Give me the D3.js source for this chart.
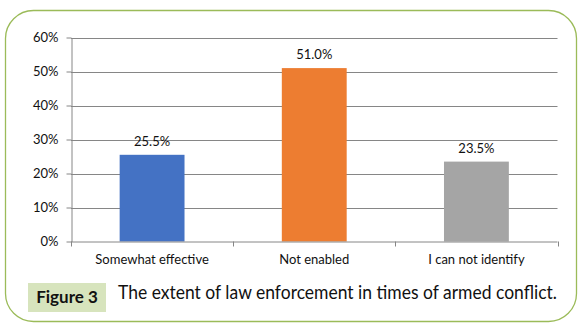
<!DOCTYPE html>
<html><head><meta charset="utf-8">
<script src="https://cdn.jsdelivr.net/npm/d3@7/dist/d3.min.js"></script>
<style>body{margin:0;background:#fff}svg{display:block}text{font-family:Lato,"Liberation Sans",sans-serif;fill:#111}</style>
</head><body>
<script>
const categories = ["Somewhat effective", "Not enabled", "I can not identify"];
const values = [25.5, 51.0, 23.5];
const colors = ["#4472c4", "#ed7d31", "#a5a5a5"];
const yTicks = [0, 10, 20, 30, 40, 50, 60];
const figureLabel = "Figure 3";
const caption = "The extent of law enforcement in times of armed conflict.";

const W = 586, H = 332;
const svg = d3.select("body").append("svg").attr("width", W).attr("height", H);

svg.append("rect").attr("x", 5.5).attr("y", 10.5).attr("width", 571).attr("height", 311)
  .attr("rx", 28).attr("ry", 28).attr("fill", "#fff").attr("stroke", "#9bbb59").attr("stroke-width", 1.3);

const x0 = 71, x1 = 557.5, yBot = 241.5, yTop = 37.5;
const x = d3.scaleBand().domain(categories).range([x0, x1]);
const y = d3.scaleLinear().domain([0, 60]).range([yBot, yTop]);

// gridlines
svg.append("g").selectAll("line").data(yTicks.filter(d => d > 0)).join("line")
  .attr("x1", x0).attr("x2", x1).attr("y1", d => Math.round(y(d)) + 0.5).attr("y2", d => Math.round(y(d)) + 0.5)
  .attr("stroke", "#868686").attr("stroke-width", 1);

// y axis
const yAxis = svg.append("g").attr("transform", `translate(${x0 + 0.5},0)`)
  .call(d3.axisLeft(y).tickValues(yTicks).tickFormat(d => d + "%").tickSize(5).tickSizeOuter(0));
yAxis.select(".domain").attr("stroke", "#868686");
yAxis.selectAll(".tick line").attr("stroke", "#868686");
yAxis.selectAll(".tick text").attr("x", -13).attr("font-size", 13).attr("fill", "#111").style("font-family", "Lato,'Liberation Sans',sans-serif");

// bars
const bw = x.step() * 0.4;
svg.append("g").selectAll("rect").data(values).join("rect")
  .attr("x", (d, i) => x(categories[i]) + (x.bandwidth() - bw) / 2)
  .attr("width", bw)
  .attr("y", d => y(d)).attr("height", d => yBot - y(d))
  .attr("fill", (d, i) => colors[i]);

// x axis
svg.append("line").attr("x1", x0).attr("x2", x1).attr("y1", yBot + 0.5).attr("y2", yBot + 0.5).attr("stroke", "#868686");
const bounds = [x0, ...categories.map(c => x(c) + x.bandwidth())];
svg.append("g").selectAll("line").data(bounds).join("line")
  .attr("x1", d => Math.round(d) + 0.5).attr("x2", d => Math.round(d) + 0.5)
  .attr("y1", yBot).attr("y2", yBot + 5).attr("stroke", "#868686");
svg.append("g").selectAll("text").data(categories).join("text")
  .attr("x", d => x(d) + x.bandwidth() / 2).attr("y", 264)
  .attr("text-anchor", "middle").attr("font-size", 13).text(d => d);

// value labels
svg.append("g").selectAll("text").data(values).join("text")
  .attr("x", (d, i) => x(categories[i]) + x.bandwidth() / 2).attr("y", d => y(d) - 9)
  .attr("text-anchor", "middle").attr("font-size", 13).text(d => d.toFixed(1) + "%");

// caption
svg.append("rect").attr("x", 28).attr("y", 283).attr("width", 78).attr("height", 29).attr("fill", "#d7e4bd");
svg.append("text").attr("x", 67).attr("y", 303).attr("text-anchor", "middle")
  .attr("font-size", 17).attr("font-weight", "bold").text(figureLabel);
svg.append("text").attr("x", 118).attr("y", 299).attr("font-size", 18.5).attr("textLength", 439).attr("lengthAdjust", "spacingAndGlyphs").text(caption);
</script>
</body></html>
